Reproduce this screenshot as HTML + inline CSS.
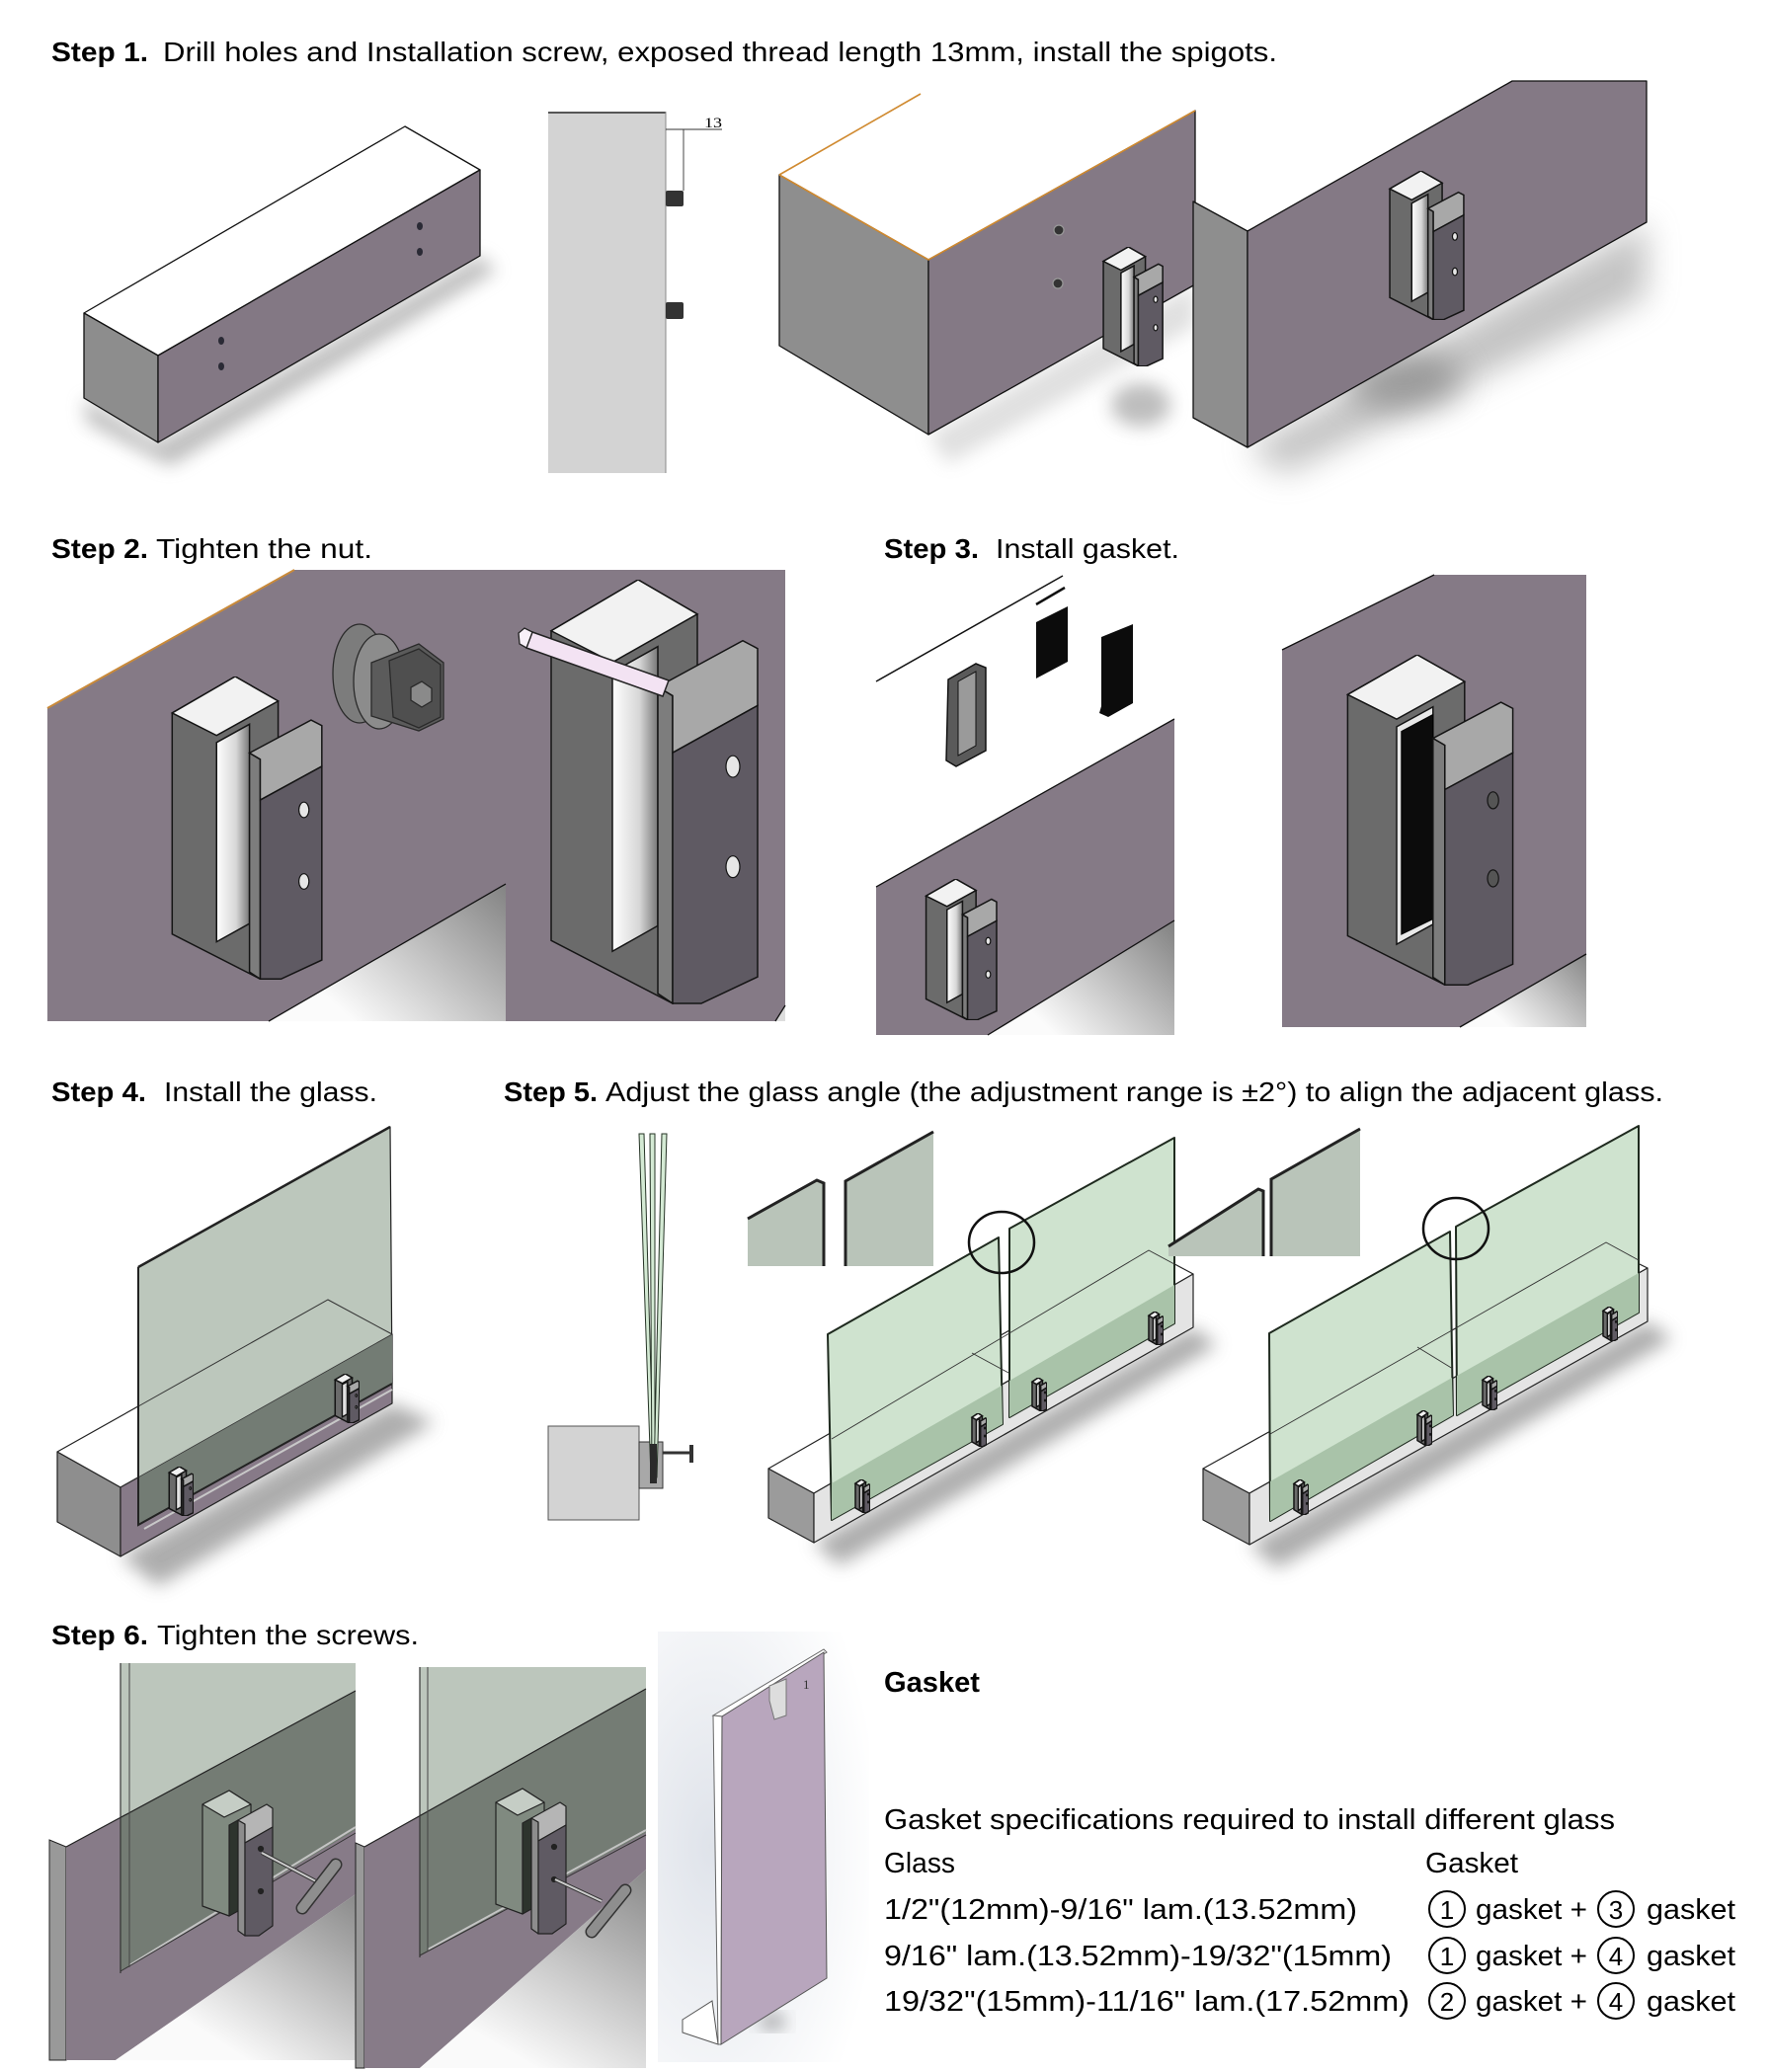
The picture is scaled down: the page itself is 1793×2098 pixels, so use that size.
<!DOCTYPE html>
<html><head><meta charset="utf-8"><style>html,body{margin:0;padding:0;background:#fff;}svg{display:block}</style></head>
<body>
<svg width="1793" height="2098" viewBox="0 0 1793 2098" xmlns="http://www.w3.org/2000/svg" font-family="'Liberation Sans', Arial, sans-serif">
<defs>
<linearGradient id="chan" x1="0" y1="0" x2="1" y2="0"><stop offset="0" stop-color="#ffffff"/><stop offset="0.6" stop-color="#d6d6d6"/><stop offset="1" stop-color="#787878"/></linearGradient>
<filter id="bl" x="-50%" y="-50%" width="200%" height="200%"><feGaussianBlur stdDeviation="9"/></filter>
<filter id="bl2" x="-50%" y="-50%" width="200%" height="200%"><feGaussianBlur stdDeviation="16"/></filter>
<linearGradient id="g2" gradientUnits="userSpaceOnUse" x1="512" y1="900" x2="375" y2="1050"><stop offset="0" stop-color="#858585"/><stop offset="1" stop-color="#fbfbfb"/></linearGradient>
<linearGradient id="g3a" gradientUnits="userSpaceOnUse" x1="1189" y1="940" x2="1075" y2="1055"><stop offset="0" stop-color="#858585"/><stop offset="1" stop-color="#fbfbfb"/></linearGradient>
<linearGradient id="g3b" gradientUnits="userSpaceOnUse" x1="1606" y1="970" x2="1532" y2="1045"><stop offset="0" stop-color="#8a8a8a"/><stop offset="1" stop-color="#fbfbfb"/></linearGradient>
<linearGradient id="g6a" gradientUnits="userSpaceOnUse" x1="360" y1="1918" x2="250" y2="2086"><stop offset="0" stop-color="#8a8a8a"/><stop offset="1" stop-color="#fafafa"/></linearGradient>
<linearGradient id="g6b" gradientUnits="userSpaceOnUse" x1="654" y1="1893" x2="540" y2="2092"><stop offset="0" stop-color="#8a8a8a"/><stop offset="1" stop-color="#fafafa"/></linearGradient>
<radialGradient id="gk" cx="0.25" cy="0.5" r="0.8"><stop offset="0" stop-color="#dfe3ea"/><stop offset="1" stop-color="#ffffff"/></radialGradient>
<symbol id="sp" viewBox="0 0 240 432" preserveAspectRatio="none">
 <polygon vector-effect="non-scaling-stroke" stroke="#141414" stroke-width="1.5" points="28,52 116,0 176,35 176,400 151,431 28,367" fill="#6b6b6b"/>
 <polygon vector-effect="non-scaling-stroke" stroke="#141414" stroke-width="1.5" points="28,52 116,0 176,35 90,84" fill="#f2f2f2"/>
 <polygon vector-effect="non-scaling-stroke" stroke="#141414" stroke-width="1.5" points="90,94 136,68 136,352 90,378" fill="url(#chan)"/>
 <polygon vector-effect="non-scaling-stroke" stroke="#141414" stroke-width="1.5" points="136,109 151,118 151,431 136,421" fill="#7d7d7d"/>
 <polygon vector-effect="non-scaling-stroke" stroke="#141414" stroke-width="1.5" points="136,109 222,62 237,70 237,128 151,176 151,118" fill="#a8a8a8"/>
 <polygon vector-effect="non-scaling-stroke" stroke="#141414" stroke-width="1.5" points="151,176 237,128 237,404 180,431 151,431" fill="#5f5a63"/>
 <ellipse vector-effect="non-scaling-stroke" stroke="#141414" stroke-width="1.2" cx="212" cy="190" rx="7" ry="11" fill="#e6e6e6"/>
 <ellipse vector-effect="non-scaling-stroke" stroke="#141414" stroke-width="1.2" cx="212" cy="292" rx="7" ry="11" fill="#e6e6e6"/>
</symbol>
<symbol id="sp2" viewBox="0 0 240 432" preserveAspectRatio="none">
 <polygon vector-effect="non-scaling-stroke" stroke="#141414" stroke-width="1.5" points="28,52 116,0 176,35 176,400 151,431 28,367" fill="#6b6b6b"/>
 <polygon vector-effect="non-scaling-stroke" stroke="#141414" stroke-width="1.5" points="28,52 116,0 176,35 90,84" fill="#f2f2f2"/>
 <polygon vector-effect="non-scaling-stroke" stroke="#141414" stroke-width="1.5" points="90,94 136,68 136,352 90,378" fill="#e8e8e8"/>
 <polygon vector-effect="non-scaling-stroke" stroke="#000" stroke-width="1" points="96,100 136,78 136,345 96,365" fill="#0c0c0c"/>
 <polygon vector-effect="non-scaling-stroke" stroke="#141414" stroke-width="1.5" points="136,109 151,118 151,431 136,421" fill="#7d7d7d"/>
 <polygon vector-effect="non-scaling-stroke" stroke="#141414" stroke-width="1.5" points="136,109 222,62 237,70 237,128 151,176 151,118" fill="#a8a8a8"/>
 <polygon vector-effect="non-scaling-stroke" stroke="#141414" stroke-width="1.5" points="151,176 237,128 237,404 180,431 151,431" fill="#5f5a63"/>
 <ellipse vector-effect="non-scaling-stroke" stroke="#141414" stroke-width="1.2" cx="212" cy="190" rx="7" ry="11" fill="#555"/>
 <ellipse vector-effect="non-scaling-stroke" stroke="#141414" stroke-width="1.2" cx="212" cy="292" rx="7" ry="11" fill="#555"/>
</symbol>
</defs>

<!-- ===== TEXT ===== -->
<g font-size="28" fill="#000">
<text x="52" y="62" font-weight="bold" textLength="98" lengthAdjust="spacingAndGlyphs">Step 1.</text>
<text x="165" y="62" textLength="1128" lengthAdjust="spacingAndGlyphs">Drill holes and Installation screw, exposed thread length 13mm, install the spigots.</text>
<text x="52" y="565" font-weight="bold" textLength="98" lengthAdjust="spacingAndGlyphs">Step 2.</text>
<text x="158" y="565" textLength="219" lengthAdjust="spacingAndGlyphs">Tighten the nut.</text>
<text x="895" y="565" font-weight="bold" textLength="96" lengthAdjust="spacingAndGlyphs">Step 3.</text>
<text x="1008" y="565" textLength="186" lengthAdjust="spacingAndGlyphs">Install gasket.</text>
<text x="52" y="1115" font-weight="bold" textLength="96" lengthAdjust="spacingAndGlyphs">Step 4.</text>
<text x="166" y="1115" textLength="216" lengthAdjust="spacingAndGlyphs">Install the glass.</text>
<text x="510" y="1115" font-weight="bold" textLength="95" lengthAdjust="spacingAndGlyphs">Step 5.</text>
<text x="613" y="1115" textLength="1071" lengthAdjust="spacingAndGlyphs">Adjust the glass angle (the adjustment range is ±2°) to align the adjacent glass.</text>
<text x="52" y="1665" font-weight="bold" textLength="98" lengthAdjust="spacingAndGlyphs">Step 6.</text>
<text x="159" y="1665" textLength="265" lengthAdjust="spacingAndGlyphs">Tighten the screws.</text>
</g>
<g font-size="29" fill="#000">
<text x="895" y="1713" font-weight="bold" textLength="97" lengthAdjust="spacingAndGlyphs">Gasket</text>
<text x="895" y="1852" textLength="740" lengthAdjust="spacingAndGlyphs">Gasket specifications required to install different glass</text>
<text x="895" y="1896" textLength="72" lengthAdjust="spacingAndGlyphs">Glass</text>
<text x="1443" y="1896" textLength="94" lengthAdjust="spacingAndGlyphs">Gasket</text>
<text x="895" y="1943" textLength="479" lengthAdjust="spacingAndGlyphs">1/2"(12mm)-9/16" lam.(13.52mm)</text>
<text x="895" y="1990" textLength="514" lengthAdjust="spacingAndGlyphs">9/16" lam.(13.52mm)-19/32"(15mm)</text>
<text x="895" y="2036" textLength="532" lengthAdjust="spacingAndGlyphs">19/32"(15mm)-11/16" lam.(17.52mm)</text>
<text x="1494" y="1943" textLength="113" lengthAdjust="spacingAndGlyphs">gasket +</text>
<text x="1494" y="1990" textLength="113" lengthAdjust="spacingAndGlyphs">gasket +</text>
<text x="1494" y="2036" textLength="113" lengthAdjust="spacingAndGlyphs">gasket +</text>
<text x="1667" y="1943" textLength="90" lengthAdjust="spacingAndGlyphs">gasket</text>
<text x="1667" y="1990" textLength="90" lengthAdjust="spacingAndGlyphs">gasket</text>
<text x="1667" y="2036" textLength="90" lengthAdjust="spacingAndGlyphs">gasket</text>
</g>
<g fill="none" stroke="#000" stroke-width="2">
<circle cx="1465" cy="1933" r="18"/><circle cx="1636" cy="1933" r="18"/>
<circle cx="1465" cy="1980" r="18"/><circle cx="1636" cy="1980" r="18"/>
<circle cx="1465" cy="2026" r="18"/><circle cx="1636" cy="2026" r="18"/>
</g>
<g font-size="26" text-anchor="middle" fill="#000">
<text x="1465" y="1943">1</text><text x="1636" y="1943">3</text>
<text x="1465" y="1990">1</text><text x="1636" y="1990">4</text>
<text x="1465" y="2036">2</text><text x="1636" y="2036">4</text>
</g>

<!-- ===== STEP 1 ===== -->
<polygon points="85,403 160,448 486,259 502,274 172,472 88,428" fill="#888" opacity="0.55" filter="url(#bl)"/>
<g stroke="#111" stroke-width="1.3" stroke-linejoin="round">
<polygon points="85,317 410,128 486,172 160,360" fill="#fff"/>
<polygon points="85,317 160,360 160,448 85,403" fill="#8d8d8d"/>
<polygon points="160,360 486,172 486,259 160,448" fill="#837884"/>
</g>
<g fill="#2a2a35"><ellipse cx="224" cy="345" rx="3" ry="4"/><ellipse cx="224" cy="371" rx="3" ry="4"/><ellipse cx="425" cy="229" rx="3" ry="4"/><ellipse cx="425" cy="255" rx="3" ry="4"/></g>
<rect x="555" y="113" width="119" height="366" fill="#d3d3d3"/>
<line x1="555" y1="114" x2="674" y2="114" stroke="#555" stroke-width="2"/>
<line x1="674" y1="113" x2="674" y2="479" stroke="#888" stroke-width="1"/>
<rect x="674" y="193" width="18" height="16" rx="2" fill="#333"/>
<rect x="674" y="306" width="18" height="17" rx="2" fill="#333"/>
<g stroke="#333" stroke-width="0.9" fill="none"><line x1="674" y1="131" x2="731" y2="131"/><line x1="692" y1="131" x2="692" y2="193"/></g>
<text x="713" y="129" font-family="'Liberation Serif', serif" font-size="15" textLength="18" lengthAdjust="spacingAndGlyphs">13</text>
<!-- image 3 -->
<polygon points="940,440 1210,288 1210,330 960,470" fill="#999" opacity="0.3" filter="url(#bl)"/>
<ellipse cx="1155" cy="410" rx="30" ry="22" fill="#888" opacity="0.55" filter="url(#bl)"/>
<g stroke="#111" stroke-width="1.3" stroke-linejoin="round">
<polygon points="789,177 940,263 940,440 789,350" fill="#8e8e8e"/>
<polygon points="940,263 1210,112 1210,288 940,440" fill="#847985"/>
</g>
<polyline points="789,177 940,263 1210,112" fill="none" stroke="#d08a30" stroke-width="1.6"/>
<line x1="789" y1="177" x2="932" y2="95" stroke="#d08a30" stroke-width="1.6"/>
<g fill="#333" stroke="#999" stroke-width="1.2"><circle cx="1072" cy="233" r="5"/><circle cx="1071" cy="287" r="5"/></g>
<use href="#sp" x="1109" y="250" width="69" height="121"/>
<!-- image 4 -->
<polygon points="1263,453 1667,225 1667,300 1300,480" fill="#888" opacity="0.5" filter="url(#bl2)"/>
<ellipse cx="1420" cy="385" rx="60" ry="30" fill="#777" opacity="0.55" filter="url(#bl2)"/>
<g stroke="#111" stroke-width="1.3" stroke-linejoin="round">
<polygon points="1208,204 1263,234 1263,453 1208,423" fill="#8e8e8e"/>
<polygon points="1263,234 1531,82 1667,82 1667,225 1263,453" fill="#847985"/>
</g>
<use href="#sp" x="1397" y="173" width="86" height="151"/>

<!-- ===== STEP 2 ===== -->
<polygon points="48,717 298,577 795,577 795,1018 785,1034 512,1034 512,895 272,1034 48,1034" fill="#857a86"/>
<polygon points="272,1034 512,895 512,1034" fill="url(#g2)"/>
<polygon points="785,1034 795,1018 795,1034" fill="#ddd"/>
<line x1="272" y1="1034" x2="512" y2="895" stroke="#111" stroke-width="1.3"/>
<line x1="785" y1="1034" x2="795" y2="1018" stroke="#111" stroke-width="1.3"/>
<line x1="48" y1="717" x2="298" y2="577" stroke="#c98a3a" stroke-width="2"/>
<use href="#sp" x="154" y="685" width="174" height="307"/>
<g stroke="#2a2a2a" stroke-width="1.3">
<ellipse cx="364" cy="682" rx="27" ry="50" fill="#7c7c7c"/>
<ellipse cx="384" cy="690" rx="26" ry="48" fill="#8c8c8c"/>
<polygon points="376,671 424,652 449,671 449,728 424,740 376,725" fill="#5b5b5b"/>
<polygon points="394,669 424,657 446,673 446,726 424,737 398,726" fill="#4f4f4f"/>
<polygon points="416,696 427,690 437,697 437,710 427,716 416,709" fill="#8a8a8a"/>
</g>
<use href="#sp" x="530" y="587" width="240" height="430"/>
<polygon points="539,640 677,689 671,705 533,656" fill="#f3e3f3" stroke="#222" stroke-width="1.5"/>
<polygon points="533,656 539,640 531,636 525,641 526,652" fill="#f8f0f8" stroke="#222" stroke-width="1.3"/>

<!-- ===== STEP 3 ===== -->
<line x1="887" y1="690" x2="1076" y2="583" stroke="#111" stroke-width="1.5"/>
<line x1="1049" y1="612" x2="1078" y2="595" stroke="#111" stroke-width="2.5"/>
<polygon points="1049,630 1081,614 1081,670 1049,687" fill="#0c0c0c"/>
<polygon points="1115,645 1147,632 1147,712 1122,726 1113,722 1115,715" fill="#0c0c0c"/>
<polygon points="960,688 988,672 998,676 998,760 968,776 958,770" fill="#5a5a5a" stroke="#111" stroke-width="1.5"/>
<polygon points="970,690 988,680 988,755 970,765" fill="#9a9a9a" stroke="#111" stroke-width="1"/>
<polygon points="887,898 1189,728 1189,932 1000,1048 887,1048" fill="#857a86"/>
<polygon points="1000,1048 1189,932 1189,1048" fill="url(#g3a)"/>
<line x1="887" y1="898" x2="1189" y2="728" stroke="#111" stroke-width="1.3"/>
<line x1="1000" y1="1048" x2="1189" y2="932" stroke="#111" stroke-width="1.3"/>
<use href="#sp" x="928" y="890" width="82" height="143"/>
<polygon points="1298,658 1452,582 1606,582 1606,966 1478,1040 1298,1040" fill="#857a86"/>
<polygon points="1478,1040 1606,966 1606,1040" fill="url(#g3b)"/>
<line x1="1298" y1="658" x2="1452" y2="582" stroke="#111" stroke-width="1.3"/>
<line x1="1478" y1="1040" x2="1606" y2="966" stroke="#111" stroke-width="1.3"/>
<use href="#sp2" x="1342" y="663" width="192" height="335"/>

<!-- ===== STEP 4 ===== -->
<polygon points="122,1576 397,1421 440,1440 160,1606" fill="#777" opacity="0.6" filter="url(#bl)"/>
<g stroke="#222" stroke-width="1.2" stroke-linejoin="round">
<polygon points="58,1470 122,1506 122,1576 58,1541" fill="#8e8e8e"/>
<polygon points="58,1470 332,1316 397,1351 122,1506" fill="#fff"/>
<polygon points="122,1506 397,1351 397,1421 122,1576" fill="#877a88"/>
<polygon points="140,1283 395,1141 397,1401 140,1544" fill="#bcc7bc"/>
</g>
<polygon points="140,1496 397,1351 397,1401 140,1544" fill="#737c74"/>
<polyline points="140,1424 332,1316 397,1351" fill="none" stroke="#333" stroke-width="1"/>
<line x1="122" y1="1506" x2="397" y2="1351" stroke="#333" stroke-width="0.8"/>
<line x1="140" y1="1283" x2="395" y2="1141" stroke="#222" stroke-width="2.5"/>
<polyline points="140,1283 140,1544 397,1401" fill="none" stroke="#222" stroke-width="2"/>
<line x1="146" y1="1548" x2="397" y2="1407" stroke="#c8c8c8" stroke-width="2"/>
<use href="#sp" x="168" y="1485" width="28" height="50"/>
<use href="#sp" x="336" y="1391" width="28" height="50"/>

<!-- ===== STEP 5 side view ===== -->
<rect x="555" y="1444" width="92" height="95" fill="#d3d3d3" stroke="#555" stroke-width="1"/>
<rect x="647" y="1460" width="24" height="47" fill="#a8a8a8" stroke="#333" stroke-width="1"/>
<g fill="#d4ead4" stroke="#263426" stroke-width="1">
<polygon points="647,1148 652,1148 662,1496 659,1496"/>
<polygon points="658,1148 663,1148 663,1496 660,1496"/>
<polygon points="670,1148 675,1148 665,1496 662,1496"/>
</g>
<rect x="658" y="1462" width="7" height="40" fill="#2a2a2a"/>
<line x1="671" y1="1471" x2="699" y2="1471" stroke="#333" stroke-width="3"/>
<line x1="700" y1="1463" x2="700" y2="1481" stroke="#333" stroke-width="4"/>

<!-- ===== STEP 5 image 2 ===== -->
<polygon points="757,1234 827,1195 834,1198 834,1282 757,1282" fill="#b9c4b9"/>
<polyline points="757,1234 827,1195 834,1198 834,1282" fill="none" stroke="#222" stroke-width="3"/>
<polygon points="856,1196 945,1146 945,1282 856,1282" fill="#b9c4b9"/>
<polyline points="945,1146 856,1196 856,1282" fill="none" stroke="#222" stroke-width="3"/>
<polygon points="824,1562 1208,1344 1232,1362 850,1585" fill="#777" opacity="0.6" filter="url(#bl)"/>
<g stroke="#222" stroke-width="1.2" stroke-linejoin="round">
<polygon points="778,1487 824,1512 824,1562 778,1537" fill="#9b9b9b"/>
<polygon points="778,1487 1163,1266 1208,1290 824,1512" fill="#fff"/>
<polygon points="824,1512 1208,1290 1208,1344 824,1562" fill="#e4e4e4"/>
</g>
<g stroke="#1f2a1f" stroke-width="2" stroke-linejoin="round">
<polygon points="838,1351 1011,1253 1015,1442 842,1539" fill="#cfe3cf"/>
<polygon points="1022,1244 1189,1152 1189,1340 1022,1435" fill="#cfe3cf"/>
</g>
<polygon points="842,1502 1014,1403 1015,1442 842,1539" fill="#a9c3a9"/>
<polygon points="1022,1398 1189,1301 1189,1340 1022,1435" fill="#a9c3a9"/>
<polyline points="842,1457 1163,1266 1189,1280" fill="none" stroke="#333" stroke-width="0.9"/>
<line x1="984" y1="1370" x2="1021" y2="1390" stroke="#333" stroke-width="0.9"/>
<use href="#sp" x="982" y="1431" width="17" height="34"/>
<use href="#sp" x="1043" y="1395" width="17" height="34"/>
<use href="#sp" x="1161" y="1328" width="17" height="34"/>
<use href="#sp" x="864" y="1498" width="17" height="34"/>
<ellipse cx="1014" cy="1258" rx="33" ry="31" fill="none" stroke="#111" stroke-width="2.5"/>

<!-- ===== STEP 5 image 3 ===== -->
<g transform="translate(-7,0)">
<polygon points="1190,1262 1281,1204 1286,1206 1286,1272 1190,1272" fill="#b9c4b9"/>
<polyline points="1190,1262 1281,1204 1286,1206 1286,1272" fill="none" stroke="#222" stroke-width="3"/>
<polygon points="1294,1194 1384,1143 1384,1272 1294,1272" fill="#b9c4b9"/>
<polyline points="1384,1143 1294,1194 1294,1272" fill="none" stroke="#222" stroke-width="3"/>
<polygon points="1272,1564 1675,1338 1700,1356 1300,1588" fill="#777" opacity="0.6" filter="url(#bl)"/>
<g stroke="#222" stroke-width="1.2" stroke-linejoin="round">
<polygon points="1225,1487 1272,1512 1272,1564 1225,1539" fill="#9b9b9b"/>
<polygon points="1225,1487 1630,1262 1675,1284 1272,1512" fill="#fff"/>
<polygon points="1272,1512 1675,1284 1675,1338 1272,1564" fill="#e4e4e4"/>
</g>
<g stroke="#1f2a1f" stroke-width="2" stroke-linejoin="round">
<polygon points="1292,1350 1475,1247 1478,1433 1293,1540" fill="#cfe3cf"/>
<polygon points="1481,1242 1666,1140 1666,1329 1482,1433" fill="#cfe3cf"/>
</g>
<polygon points="1293,1500 1477,1395 1478,1433 1293,1540" fill="#a9c3a9"/>
<polygon points="1482,1393 1666,1289 1666,1329 1482,1433" fill="#a9c3a9"/>
<polyline points="1293,1452 1633,1258 1666,1276" fill="none" stroke="#333" stroke-width="0.9"/>
<line x1="1442" y1="1364" x2="1478" y2="1386" stroke="#333" stroke-width="0.9"/>
<use href="#sp" x="1315" y="1498" width="17" height="36"/>
<use href="#sp" x="1440" y="1428" width="17" height="36"/>
<use href="#sp" x="1506" y="1393" width="17" height="35"/>
<use href="#sp" x="1628" y="1323" width="17" height="35"/>
<ellipse cx="1481" cy="1244" rx="33" ry="31" fill="none" stroke="#111" stroke-width="2.5"/>
</g>

<!-- ===== STEP 6 image 1 ===== -->
<polygon points="50,1863 67,1870 67,2086 50,2086" fill="#999" stroke="#222" stroke-width="1"/>
<polygon points="67,1870 360,1712 360,1918 117,2086 67,2086" fill="#877b88"/>
<polygon points="117,2086 360,1918 360,2086" fill="url(#g6a)"/>
<polygon points="122,1684 360,1684 360,1712 122,1840" fill="#bcc6bc"/>
<polygon points="122,1840 360,1712 360,1853 122,1996" fill="#747c74"/>
<line x1="67" y1="1870" x2="360" y2="1712" stroke="#222" stroke-width="1.2"/>
<line x1="131" y1="1990" x2="360" y2="1850" stroke="#c4c4c4" stroke-width="2"/>
<line x1="122" y1="1996" x2="360" y2="1856" stroke="#333" stroke-width="1"/>
<line x1="122" y1="1684" x2="122" y2="1998" stroke="#333" stroke-width="1.2"/>
<line x1="131" y1="1684" x2="131" y2="1992" stroke="#444" stroke-width="1"/>
<g stroke="#222" stroke-width="1.2" stroke-linejoin="round">
<polygon points="205,1827 232,1813 254,1827 254,1925 232,1940 205,1930" fill="#808a80"/>
<polygon points="205,1827 232,1813 254,1827 227,1840" fill="#c5cdc5"/>
<polygon points="232,1848 241,1843 241,1935 232,1940" fill="#2d342d"/>
<polygon points="241,1843 248,1847 248,1960 241,1955" fill="#8d8d8d"/>
<polygon points="241,1843 270,1827 276,1831 276,1850 248,1866 248,1847" fill="#b5b5b5"/>
<polygon points="248,1866 276,1850 276,1950 262,1960 248,1960" fill="#5f5a63"/>
<circle cx="264" cy="1872" r="2.5" fill="#222"/><circle cx="264" cy="1915" r="2.5" fill="#222"/>
</g>
<line x1="265" y1="1876" x2="320" y2="1905" stroke="#333" stroke-width="4"/>
<line x1="265" y1="1876" x2="320" y2="1905" stroke="#ccc" stroke-width="2"/>
<line x1="340" y1="1888" x2="306" y2="1932" stroke="#333" stroke-width="13" stroke-linecap="round"/>
<line x1="340" y1="1888" x2="306" y2="1932" stroke="#8e8e8e" stroke-width="10" stroke-linecap="round"/>

<!-- ===== STEP 6 image 2 ===== -->
<polygon points="360,1866 369,1870 369,2094 360,2094" fill="#999" stroke="#222" stroke-width="1"/>
<polygon points="369,1870 654,1710 654,1893 425,2094 369,2094" fill="#877b88"/>
<polygon points="425,2094 654,1893 654,2094" fill="url(#g6b)"/>
<polygon points="425,1688 654,1688 654,1710 425,1839" fill="#bcc6bc"/>
<polygon points="425,1839 654,1710 654,1856 425,1980" fill="#747c74"/>
<line x1="369" y1="1870" x2="654" y2="1710" stroke="#222" stroke-width="1.2"/>
<line x1="433" y1="1974" x2="654" y2="1853" stroke="#c4c4c4" stroke-width="2"/>
<line x1="425" y1="1980" x2="654" y2="1858" stroke="#333" stroke-width="1"/>
<line x1="425" y1="1688" x2="425" y2="1982" stroke="#333" stroke-width="1.2"/>
<line x1="433" y1="1688" x2="433" y2="1976" stroke="#444" stroke-width="1"/>
<g transform="translate(297,-2)">
<g stroke="#222" stroke-width="1.2" stroke-linejoin="round">
<polygon points="205,1827 232,1813 254,1827 254,1925 232,1940 205,1930" fill="#808a80"/>
<polygon points="205,1827 232,1813 254,1827 227,1840" fill="#c5cdc5"/>
<polygon points="232,1848 241,1843 241,1935 232,1940" fill="#2d342d"/>
<polygon points="241,1843 248,1847 248,1960 241,1955" fill="#8d8d8d"/>
<polygon points="241,1843 270,1827 276,1831 276,1850 248,1866 248,1847" fill="#b5b5b5"/>
<polygon points="248,1866 276,1850 276,1950 262,1960 248,1960" fill="#5f5a63"/>
<circle cx="264" cy="1872" r="2.5" fill="#222"/><circle cx="264" cy="1905" r="2.5" fill="#222"/>
</g>
</g>
<line x1="562" y1="1903" x2="609" y2="1925" stroke="#333" stroke-width="4"/>
<line x1="562" y1="1903" x2="609" y2="1925" stroke="#ccc" stroke-width="2"/>
<line x1="633" y1="1914" x2="599" y2="1956" stroke="#333" stroke-width="13" stroke-linecap="round"/>
<line x1="633" y1="1914" x2="599" y2="1956" stroke="#8e8e8e" stroke-width="10" stroke-linecap="round"/>

<!-- ===== gasket image ===== -->
<rect x="666" y="1652" width="214" height="436" fill="url(#gk)"/>
<ellipse cx="782" cy="2047" rx="12" ry="6" fill="#444" opacity="0.7" filter="url(#bl)"/>
<polygon points="691,2045 721,2026 727,2070 691,2058" fill="#fff" stroke="#555" stroke-width="1"/>
<polygon points="722,1737 834,1670 837,1673 731,1738" fill="#fff" stroke="#666" stroke-width="1"/>
<polygon points="722,1737 731,1738 730,2070 727,2070" fill="#fff" stroke="#666" stroke-width="1"/>
<polygon points="731,1738 834,1673 837,2003 730,2070" fill="#b8a6bd" stroke="#555" stroke-width="1"/>
<polygon points="779,1707 796,1700 796,1737 784,1741 779,1722" fill="#ddd" stroke="#777" stroke-width="1"/>
<text x="813" y="1710" font-family="'Liberation Serif', serif" font-size="13" fill="#333">1</text>
</svg>
</body></html>
